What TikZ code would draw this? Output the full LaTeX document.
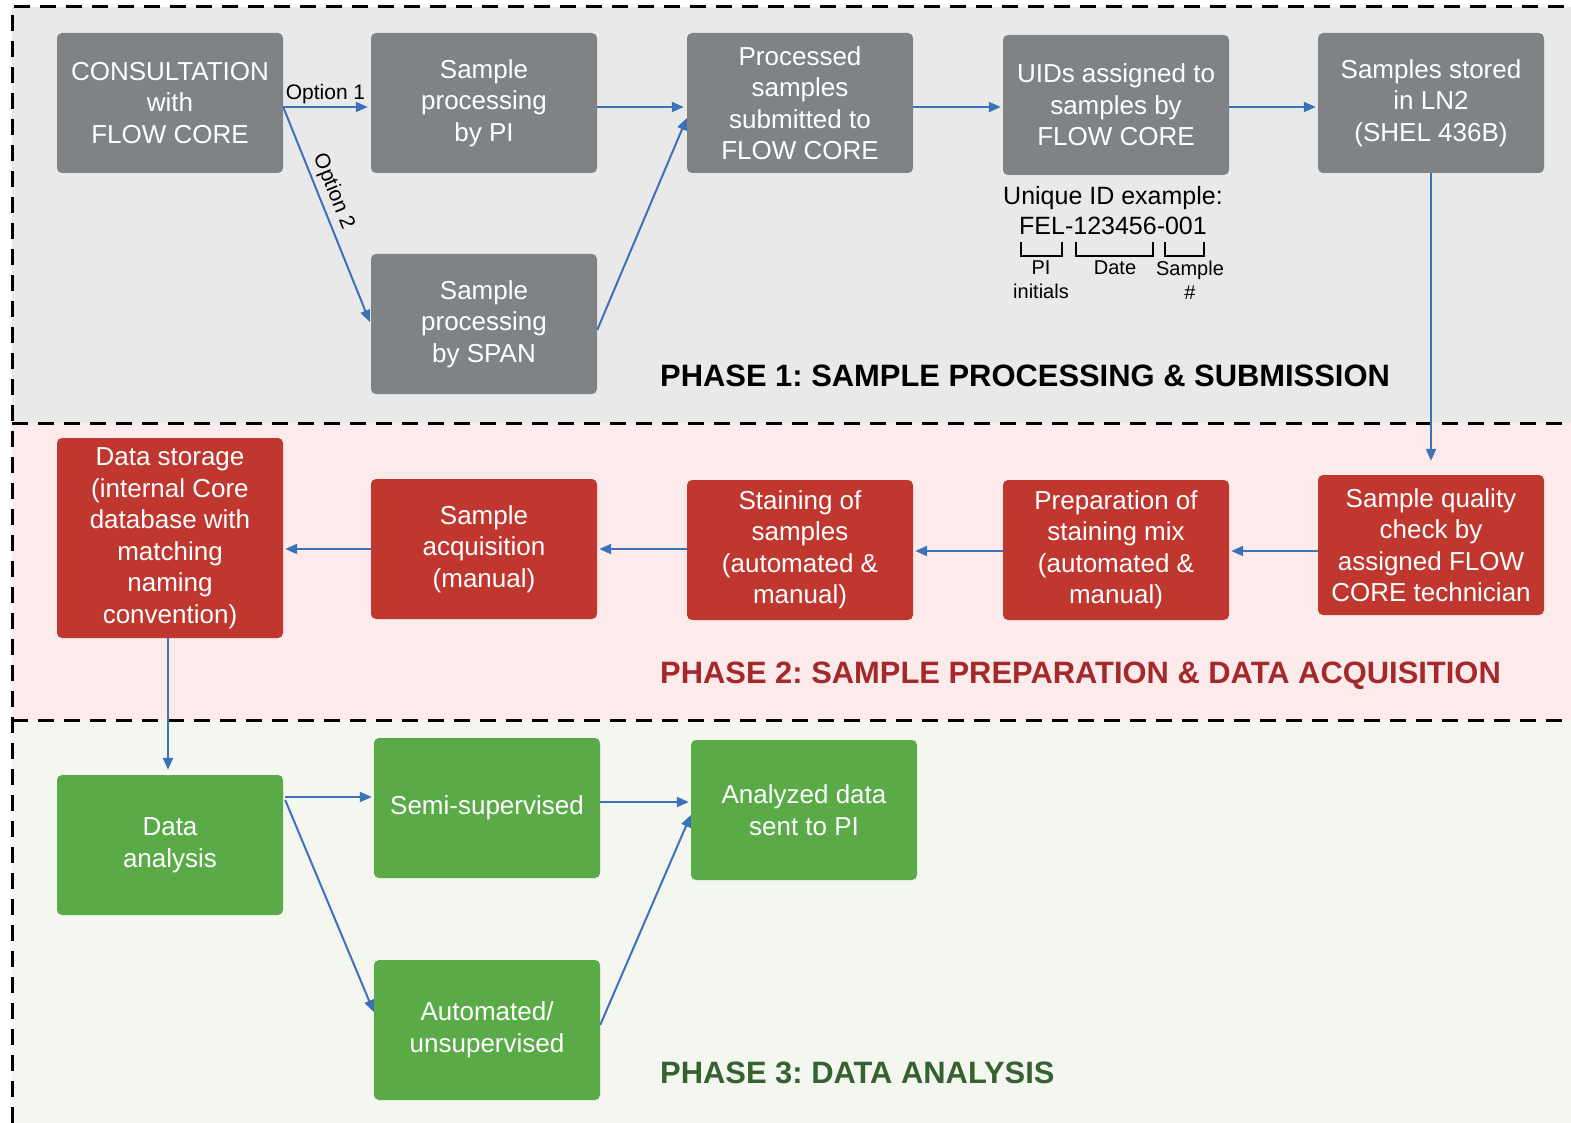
\documentclass[tikz,border=0pt]{standalone}
\usepackage{fontspec}
\setmainfont{Liberation Sans}
\usetikzlibrary{arrows.meta,calc}
\definecolor{boxgray}{HTML}{7F8386}
\definecolor{boxred}{HTML}{C0372F}
\definecolor{boxgreen}{HTML}{5AAB47}
\definecolor{arrblue}{HTML}{3C72B8}
\definecolor{bgone}{HTML}{E9E9E9}
\definecolor{bgtwo}{HTML}{FDEBEB}
\definecolor{bgthree}{HTML}{F4F6F0}
\definecolor{phtwo}{HTML}{A3292A}
\definecolor{phthree}{HTML}{366130}
\tikzset{
 box/.style={rectangle, rounded corners=5pt, minimum width=226pt, minimum height=140pt, inner sep=0pt, text=white, align=center, font=\fontsize{26}{31.5}\selectfont},
 gbox/.style={box, fill=boxgray},
 rbox/.style={box, fill=boxred},
 grbox/.style={box, fill=boxgreen},
 arr/.style={draw=arrblue, line width=2pt, -{Triangle[length=12pt,width=10pt]}},
 dline/.style={line width=3pt, dash pattern=on 16pt off 10pt},
 phase/.style={anchor=west, inner sep=0pt, font=\fontsize{30.9}{36}\selectfont\bfseries},
 small/.style={inner sep=0pt, align=center, font=\fontsize{20}{24}\selectfont},
}
\frenchspacing
\begin{document}
\frenchspacing
\begin{tikzpicture}[x=1pt,y=-1pt]
\useasboundingbox (0,0) rectangle (1571,1123);
\fill[white] (0,0) rectangle (1571,1123);
\fill[bgone] (12,7) rectangle (1571,423);
\fill[bgtwo] (12,423) rectangle (1571,720);
\fill[bgthree] (12,720) rectangle (1571,1123);
\draw[dline] (12,1123) -- (12,7) -- (1571,7);
\draw[dline] (12,423) -- (1571,423);
\draw[dline] (12,720) -- (1571,720);

% Phase 1
\node[gbox] (consult) at (170,103) {CONSULTATION\\with\\FLOW CORE};
\node[gbox] (pi) at (484,103) {Sample\\processing\\by PI};
\node[gbox] (span) at (484,324) {Sample\\processing\\by SPAN};
\node[gbox] (processed) at (800,103) {Processed\\samples\\submitted to\\FLOW CORE};
\node[gbox] (uids) at (1116,105) {UIDs assigned to\\samples by\\FLOW CORE};
\node[gbox] (stored) at (1431,103) {Samples stored\\in LN2\\(SHEL 436B)};

\node[inner sep=0pt, font=\fontsize{25}{30}\selectfont] (uidex) at (1113,198) {Unique ID example:};
\node[inner sep=0pt, font=\fontsize{25}{30}\selectfont] (uidval) at (1113,226) {FEL-123456-001};
\draw[line width=2pt] (1021,242) -- (1021,256) -- (1062,256) -- (1062,242);
\draw[line width=2pt] (1076,242) -- (1076,256) -- (1153,256) -- (1153,242);
\draw[line width=2pt] (1165,242) -- (1165,256) -- (1204,256) -- (1204,242);
\node[small] (lpi) at (1041,280) {PI\\initials};
\node[small] (ldate) at (1115,268) {Date};
\node[small] (lsample) at (1190,280) {Sample\\\#};

\node[phase] (ph1) at (660,376) {PHASE 1: SAMPLE PROCESSING \& SUBMISSION};

% Phase 2
\node[rbox, minimum height=200pt] (storage) at (170,538) {Data storage\\(internal Core\\database with\\matching\\naming\\convention)};
\node[rbox] (acq) at (484,549) {Sample\\acquisition\\(manual)};
\node[rbox] (stain) at (800,550) {Staining of\\samples\\(automated \&\\manual)};
\node[rbox] (prep) at (1116,550) {Preparation of\\staining mix\\(automated \&\\manual)};
\node[rbox] (qc) at (1431,545) {Sample quality\\check by\\assigned FLOW\\CORE technician};

\node[phase, text=phtwo] (ph2) at (660,676) {PHASE 2: SAMPLE PREPARATION \& DATA ACQUISITION};

% Phase 3
\node[grbox] (analysis) at (170,845) {Data\\analysis};
\node[grbox] (semi) at (487,808) {Semi-supervised};
\node[grbox] (analyzed) at (804,810) {Analyzed data\\sent to PI};
\node[grbox] (auto) at (487,1030) {Automated/\\unsupervised};

\node[phase, text=phthree] (ph3) at (660,1073) {PHASE 3: DATA ANALYSIS};

% Arrows phase 1
\draw[arr] ($(consult.east)+(0,4)$) -- node[above, inner sep=2pt, font=\fontsize{21}{24}\selectfont] (opt1) {Option 1} ($(pi.west)+(-3,4)$);
\draw[arr] ($(consult.east)+(0,4)$) -- node[pos=0.42, above, sloped, inner sep=4pt, font=\fontsize{21}{24}\selectfont] (opt2) {Option 2} ($(span.west)+(-1,-2)$);
\draw[arr] ($(pi.east)+(0,4)$) -- ($(processed.west)+(-3,4)$);
\draw[arr] ($(span.east)+(0,6)$) -- ($(processed.west)+(0,15)$);
\draw[arr] ($(processed.east)+(0,4)$) -- ($(uids.west)+(-2,2)$);
\draw[arr] ($(uids.east)+(0,2)$) -- ($(stored.west)+(-2,4)$);
\draw[arr] (stored.south) -- ($(qc.north)+(0,-14)$);
% Phase 2
\draw[arr] ($(qc.west)+(0,6)$) -- ($(prep.east)+(2,1)$);
\draw[arr] ($(prep.west)+(0,1)$) -- ($(stain.east)+(2,1)$);
\draw[arr] ($(stain.west)+(0,-1)$) -- ($(acq.east)+(2,0)$);
\draw[arr] (acq.west) -- ($(storage.east)+(2,11)$);
\draw[arr] ($(storage.south)+(-2,0)$) -- ($(analysis.north)+(-2,-5)$);
% Phase 3
\draw[arr] ($(analysis.east)+(2,-48)$) -- ($(semi.west)+(-2,-11)$);
\draw[arr] ($(analysis.east)+(2,-45)$) -- ($(auto.west)+(0,-18)$);
\draw[arr] ($(semi.east)+(0,-6)$) -- ($(analyzed.west)+(-2,-8)$);
\draw[arr] ($(auto.east)+(0,-5)$) -- ($(analyzed.west)+(0,5)$);
\end{tikzpicture}
\end{document}
